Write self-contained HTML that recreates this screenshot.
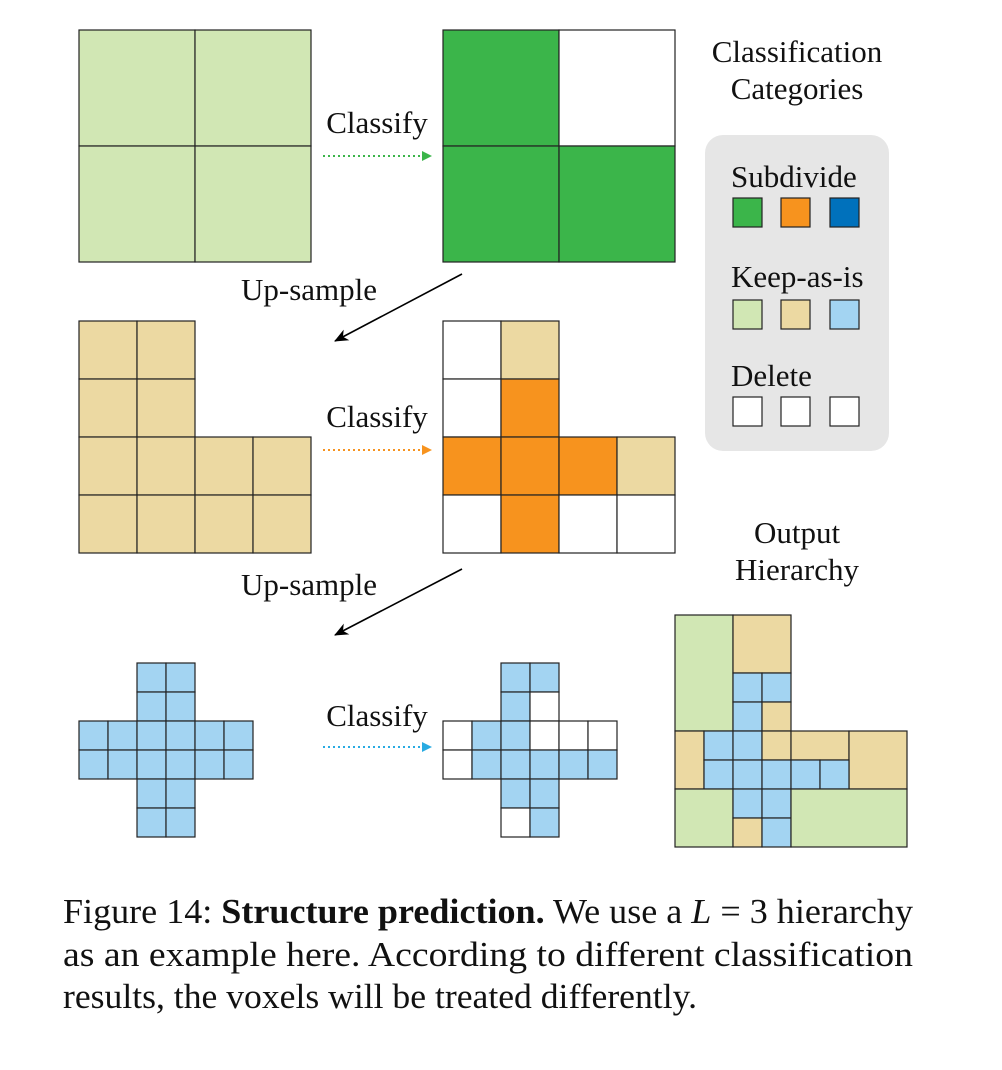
<!DOCTYPE html>
<html><head><meta charset="utf-8"><style>
html,body{margin:0;padding:0;background:#fff}
svg{display:block}
text{font-family:"Liberation Serif",serif;fill:#111}
</style></head><body>
<svg width="1002" height="1070" viewBox="0 0 1002 1070" xmlns="http://www.w3.org/2000/svg">
<defs>
<marker id="ag" markerWidth="10" markerHeight="10" refX="9" refY="5" orient="auto" markerUnits="userSpaceOnUse"><path d="M0,0 L10,5 L0,10 z" fill="#3bb54a"/></marker>
<marker id="ao" markerWidth="10" markerHeight="10" refX="9" refY="5" orient="auto" markerUnits="userSpaceOnUse"><path d="M0,0 L10,5 L0,10 z" fill="#f7931e"/></marker>
<marker id="ab" markerWidth="10" markerHeight="10" refX="9" refY="5" orient="auto" markerUnits="userSpaceOnUse"><path d="M0,0 L10,5 L0,10 z" fill="#29abe2"/></marker>
<marker id="ak" markerWidth="14" markerHeight="12" refX="13" refY="6" orient="auto" markerUnits="userSpaceOnUse"><path d="M0,0 L14,6 L0,12 L4,6 z" fill="#000"/></marker>
</defs>
<g stroke="#222" stroke-width="1.2">
<rect x="79" y="30" width="116" height="116" fill="#d1e7b4"/>
<rect x="195" y="30" width="116" height="116" fill="#d1e7b4"/>
<rect x="79" y="146" width="116" height="116" fill="#d1e7b4"/>
<rect x="195" y="146" width="116" height="116" fill="#d1e7b4"/>
<rect x="443" y="30" width="116" height="116" fill="#3bb54a"/>
<rect x="559" y="30" width="116" height="116" fill="#fff"/>
<rect x="443" y="146" width="116" height="116" fill="#3bb54a"/>
<rect x="559" y="146" width="116" height="116" fill="#3bb54a"/>
<g fill="#ecd9a2">
<rect x="79" y="321" width="58" height="58"/><rect x="137" y="321" width="58" height="58"/>
<rect x="79" y="379" width="58" height="58"/><rect x="137" y="379" width="58" height="58"/>
<rect x="79" y="437" width="58" height="58"/><rect x="137" y="437" width="58" height="58"/><rect x="195" y="437" width="58" height="58"/><rect x="253" y="437" width="58" height="58"/>
<rect x="79" y="495" width="58" height="58"/><rect x="137" y="495" width="58" height="58"/><rect x="195" y="495" width="58" height="58"/><rect x="253" y="495" width="58" height="58"/>
</g>
<rect x="443" y="321" width="58" height="58" fill="#fff"/><rect x="501" y="321" width="58" height="58" fill="#ecd9a2"/>
<rect x="443" y="379" width="58" height="58" fill="#fff"/><rect x="501" y="379" width="58" height="58" fill="#f7931e"/>
<rect x="443" y="437" width="58" height="58" fill="#f7931e"/><rect x="501" y="437" width="58" height="58" fill="#f7931e"/><rect x="559" y="437" width="58" height="58" fill="#f7931e"/><rect x="617" y="437" width="58" height="58" fill="#ecd9a2"/>
<rect x="443" y="495" width="58" height="58" fill="#fff"/><rect x="501" y="495" width="58" height="58" fill="#f7931e"/><rect x="559" y="495" width="58" height="58" fill="#fff"/><rect x="617" y="495" width="58" height="58" fill="#fff"/>
<g fill="#a3d4f2">
<rect x="137" y="663" width="29" height="29"/><rect x="166" y="663" width="29" height="29"/>
<rect x="137" y="692" width="29" height="29"/><rect x="166" y="692" width="29" height="29"/>
<rect x="79" y="721" width="29" height="29"/><rect x="108" y="721" width="29" height="29"/><rect x="137" y="721" width="29" height="29"/><rect x="166" y="721" width="29" height="29"/><rect x="195" y="721" width="29" height="29"/><rect x="224" y="721" width="29" height="29"/>
<rect x="79" y="750" width="29" height="29"/><rect x="108" y="750" width="29" height="29"/><rect x="137" y="750" width="29" height="29"/><rect x="166" y="750" width="29" height="29"/><rect x="195" y="750" width="29" height="29"/><rect x="224" y="750" width="29" height="29"/>
<rect x="137" y="779" width="29" height="29"/><rect x="166" y="779" width="29" height="29"/>
<rect x="137" y="808" width="29" height="29"/><rect x="166" y="808" width="29" height="29"/>
</g>
<rect x="501" y="663" width="29" height="29" fill="#a3d4f2"/><rect x="530" y="663" width="29" height="29" fill="#a3d4f2"/>
<rect x="501" y="692" width="29" height="29" fill="#a3d4f2"/><rect x="530" y="692" width="29" height="29" fill="#fff"/>
<rect x="443" y="721" width="29" height="29" fill="#fff"/><rect x="472" y="721" width="29" height="29" fill="#a3d4f2"/><rect x="501" y="721" width="29" height="29" fill="#a3d4f2"/><rect x="530" y="721" width="29" height="29" fill="#fff"/><rect x="559" y="721" width="29" height="29" fill="#fff"/><rect x="588" y="721" width="29" height="29" fill="#fff"/>
<rect x="443" y="750" width="29" height="29" fill="#fff"/><rect x="472" y="750" width="29" height="29" fill="#a3d4f2"/><rect x="501" y="750" width="29" height="29" fill="#a3d4f2"/><rect x="530" y="750" width="29" height="29" fill="#a3d4f2"/><rect x="559" y="750" width="29" height="29" fill="#a3d4f2"/><rect x="588" y="750" width="29" height="29" fill="#a3d4f2"/>
<rect x="501" y="779" width="29" height="29" fill="#a3d4f2"/><rect x="530" y="779" width="29" height="29" fill="#a3d4f2"/>
<rect x="501" y="808" width="29" height="29" fill="#fff"/><rect x="530" y="808" width="29" height="29" fill="#a3d4f2"/>
<rect x="675" y="615" width="58" height="116" fill="#d1e7b4"/>
<rect x="733" y="615" width="58" height="58" fill="#ecd9a2"/>
<rect x="733" y="673" width="29" height="29" fill="#a3d4f2"/><rect x="762" y="673" width="29" height="29" fill="#a3d4f2"/>
<rect x="733" y="702" width="29" height="29" fill="#a3d4f2"/><rect x="762" y="702" width="29" height="29" fill="#ecd9a2"/>
<rect x="675" y="731" width="29" height="58" fill="#ecd9a2"/>
<rect x="704" y="731" width="29" height="29" fill="#a3d4f2"/><rect x="733" y="731" width="29" height="29" fill="#a3d4f2"/><rect x="762" y="731" width="29" height="29" fill="#ecd9a2"/><rect x="791" y="731" width="58" height="29" fill="#ecd9a2"/>
<rect x="849" y="731" width="58" height="58" fill="#ecd9a2"/>
<rect x="704" y="760" width="29" height="29" fill="#a3d4f2"/><rect x="733" y="760" width="29" height="29" fill="#a3d4f2"/><rect x="762" y="760" width="29" height="29" fill="#a3d4f2"/><rect x="791" y="760" width="29" height="29" fill="#a3d4f2"/><rect x="820" y="760" width="29" height="29" fill="#a3d4f2"/>
<rect x="675" y="789" width="58" height="58" fill="#d1e7b4"/>
<rect x="733" y="789" width="29" height="29" fill="#a3d4f2"/><rect x="762" y="789" width="29" height="29" fill="#a3d4f2"/>
<rect x="733" y="818" width="29" height="29" fill="#ecd9a2"/><rect x="762" y="818" width="29" height="29" fill="#a3d4f2"/>
<rect x="791" y="789" width="116" height="58" fill="#d1e7b4"/>
</g>
<rect x="705" y="135" width="184" height="316" rx="18" fill="#e6e6e6"/>
<g stroke="#222" stroke-width="1.2">
<rect x="733" y="198" width="29" height="29" fill="#3bb54a"/><rect x="781" y="198" width="29" height="29" fill="#f7931e"/><rect x="830" y="198" width="29" height="29" fill="#0071bc"/>
<rect x="733" y="300" width="29" height="29" fill="#d1e7b4"/><rect x="781" y="300" width="29" height="29" fill="#ecd9a2"/><rect x="830" y="300" width="29" height="29" fill="#a3d4f2"/>
<rect x="733" y="397" width="29" height="29" fill="#fff"/><rect x="781" y="397" width="29" height="29" fill="#fff"/><rect x="830" y="397" width="29" height="29" fill="#fff"/>
</g>
<g font-size="31">
<text x="731" y="187">Subdivide</text>
<text x="731" y="287">Keep-as-is</text>
<text x="731" y="386">Delete</text>
<text x="797" y="62" text-anchor="middle">Classification</text>
<text x="797" y="99" text-anchor="middle">Categories</text>
<text x="797" y="543" text-anchor="middle">Output</text>
<text x="797" y="580" text-anchor="middle">Hierarchy</text>
<text x="377" y="133" text-anchor="middle">Classify</text>
<text x="377" y="427" text-anchor="middle">Classify</text>
<text x="377" y="726" text-anchor="middle">Classify</text>
<text x="309" y="300" text-anchor="middle">Up-sample</text>
<text x="309" y="595" text-anchor="middle">Up-sample</text>
</g>
<line x1="323" y1="156" x2="431" y2="156" stroke="#3bb54a" stroke-width="2" stroke-dasharray="2,3" marker-end="url(#ag)"/>
<line x1="323" y1="450" x2="431" y2="450" stroke="#f7931e" stroke-width="2" stroke-dasharray="2,3" marker-end="url(#ao)"/>
<line x1="323" y1="747" x2="431" y2="747" stroke="#29abe2" stroke-width="2" stroke-dasharray="2,3" marker-end="url(#ab)"/>
<line x1="462" y1="274" x2="335" y2="341" stroke="#000" stroke-width="1.6" marker-end="url(#ak)"/>
<line x1="462" y1="569" x2="335" y2="635" stroke="#000" stroke-width="1.6" marker-end="url(#ak)"/>
<g font-size="35">
<text x="63" y="923" textLength="850" lengthAdjust="spacingAndGlyphs">Figure 14: <tspan font-weight="bold">Structure prediction.</tspan> We use a <tspan font-style="italic">L</tspan> = 3 hierarchy</text>
<text x="63" y="966" textLength="850" lengthAdjust="spacingAndGlyphs">as an example here.  According to different classification</text>
<text x="63" y="1008" textLength="634" lengthAdjust="spacingAndGlyphs">results, the voxels will be treated differently.</text>
</g>
</svg>
</body></html>
